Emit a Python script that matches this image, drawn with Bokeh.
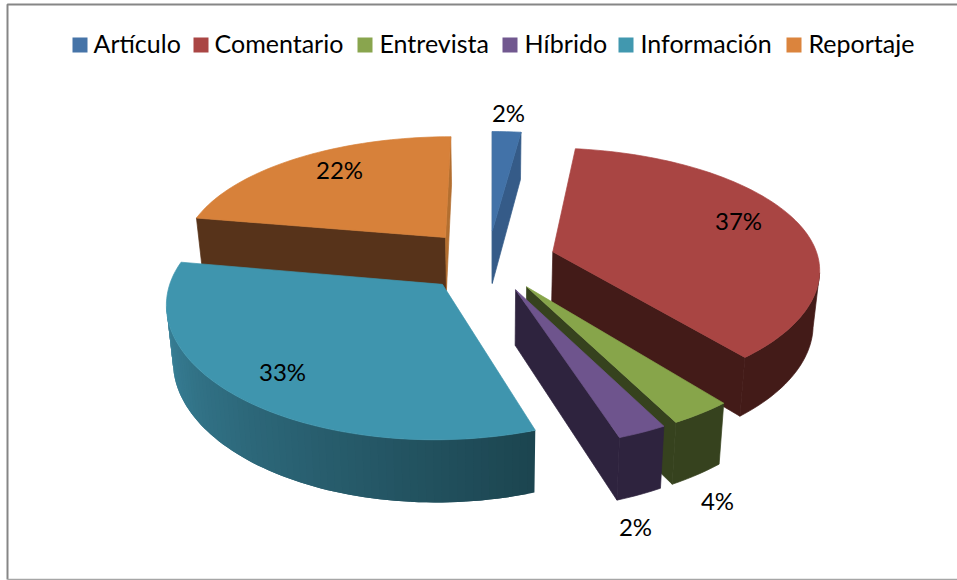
import numpy as np
from bokeh.embed import file_html
from bokeh.models import Range1d
from bokeh.plotting import figure
from bokeh.resources import INLINE
from bokeh.core.properties import value

# ---- data ----
categories = ["Artículo", "Comentario", "Entrevista", "Híbrido", "Información", "Reportaje"]
shares = [2.0, 37.05, 3.2, 2.55, 33.0, 22.2]
share_labels = ["2%", "37%", "4%", "2%", "33%", "22%"]

# ---- styles ----
top_colors = ["#4272A8", "#A94543", "#87A54A", "#6E548D", "#3F95AE", "#D7813A"]
legend_colors = ["#4674A8", "#AA4644", "#89A54E", "#71588F", "#4198AF", "#DB843D"]
wall_colors = ["#355B88", "#431B18", "#36421E", "#2E233E", "#1C4550", "#57331A"]
rim_far_colors = ["#355B88", "#431B18", "#36421E", "#2E233E", "#3F8EA8", "#57331A"]
end_wall_colors = ["#355B88", "#431B18", "#36421E", "#2E233E", "#1C4550", "#B36F30"]

legend_swatch_x = [72, 193, 357, 502, 618, 786]
legend_text_x = [93, 214, 379, 524, 640, 808]
label_x = [508, 738, 717, 635, 282, 339]
label_y = [112, 220, 500, 526, 371, 169]

# ---- projection ----
XV, YH, Y0 = 492.0, -670.0, 259.6
RX, RV, EXPL, X0 = 266.0, 268.0, 68.0, -4.5
PERSP = 0.13 / 272.0
H0, SHRINK = 54.0, 0.02
STRETCH, STRETCH_V = 12.0, 318.0
CAM_V = -1.0 / PERSP


def project(X, V, d=0.0):
    X, V = np.asarray(X, float), np.asarray(V, float)
    s = 1.0 / (1.0 + PERSP * V)
    x = XV + (X + X0) * s * (1 - SHRINK * d)
    y = YH + (Y0 - YH) * s + d * H0 * s ** 0.9
    y = y + STRETCH * (np.clip(-V, 0, None) / STRETCH_V) ** 1.5
    return x, y


def hex2rgb(c):
    return np.array([int(c[i:i + 2], 16) for i in (1, 3, 5)], float)


def mix(a, b, f):
    m = hex2rgb(a) * (1 - f) + hex2rgb(b) * f
    return "#%02x%02x%02x" % tuple(int(round(v)) for v in m)


p = figure(width=957, height=580, output_backend="svg", toolbar_location=None,
           x_range=Range1d(0, 957), y_range=Range1d(580, 0),
           min_border=0, margin=(0, 0, 0, 0), background_fill_color="white",
           border_fill_color="white", outline_line_color=None)
p.axis.visible = False
p.grid.visible = False

fracs = np.array(shares, float) / sum(shares)
ends = np.cumsum(fracs) * 2 * np.pi
starts = ends - fracs * 2 * np.pi
mids = (starts + ends) / 2
apex_X = EXPL * np.sin(mids)
apex_V = EXPL * np.cos(mids)


def wall_poly(cx, cv, angs):
    xa, va = cx + RX * np.sin(angs), cv + RV * np.cos(angs)
    tx, ty = project(xa, va, 0.0)
    bx, by = project(xa, va, 1.0)
    return list(tx) + list(bx[::-1]), list(ty) + list(by[::-1])


def radial_wall(cx, cv, ang):
    xs, ys = [], []
    for (r_, d_) in [(0, 0), (1, 0), (1, 1), (0, 1)]:
        px, py = project(cx + r_ * RX * np.sin(ang), cv + r_ * RV * np.cos(ang), d_)
        xs.append(float(px))
        ys.append(float(py))
    return xs, ys


def add_patch(xs, ys, color, edge=True):
    p.patch(xs, ys, fill_color=color, line_color=color if edge else None,
            line_width=0.7)


for i in np.argsort(-apex_V):
    cx, cv = apex_X[i], apex_V[i]
    a0, a1 = starts[i], ends[i]
    # radial walls
    for ang, sign, col in ((a0, -1, wall_colors[i]), (a1, 1, end_wall_colors[i])):
        nx, nv = sign * np.cos(ang), -sign * np.sin(ang)
        if nx * (0 - cx) + nv * (CAM_V - cv) > 0:
            xs, ys = radial_wall(cx, cv, ang)
            add_patch(xs, ys, col)
    # outer wall
    ts = np.linspace(a0, a1, max(3, int((a1 - a0) / 0.025)))
    px_, pv_ = cx + RX * np.sin(ts), cv + RV * np.cos(ts)
    vis = np.sin(ts) * (0 - px_) + np.cos(ts) * (CAM_V - pv_) > 0
    ts_vis = ts[vis]
    if len(ts_vis) > 1:
        if wall_colors[i] == rim_far_colors[i]:
            xs, ys = wall_poly(cx, cv, ts_vis)
            add_patch(xs, ys, wall_colors[i])
        else:
            for k in range(len(ts_vis) - 1):
                seg = ts_vis[k:k + 3]
                f = (ts_vis[k] - a0) / (a1 - a0)
                xs, ys = wall_poly(cx, cv, seg)
                add_patch(xs, ys, mix(wall_colors[i], rim_far_colors[i], f), edge=False)
    # top face
    tx, ty = project(np.r_[cx, cx + RX * np.sin(ts)], np.r_[cv, cv + RV * np.cos(ts)])
    add_patch(list(tx), list(ty), top_colors[i])

# chart frame
p.line([957, 7, 7], [4, 4, 579], line_color="#868686", line_width=2)
p.line([7, 957], [579, 579], line_color="#A6A6A6", line_width=1.5)

# legend
p.rect([x + 7.5 for x in legend_swatch_x], [44.5] * 6, width=15, height=15,
       fill_color=legend_colors, line_color=None)
p.text(legend_text_x, [42] * 6, text=categories, text_font=value("Lato"),
       text_font_size="25px", text_color="#000000", text_baseline="alphabetic")

# data labels
p.text(label_x, label_y, text=share_labels, text_font=value("Lato"),
       text_font_size="24px", text_color="#000000",
       text_align="center", text_baseline="middle")

open("out.html", "w").write(file_html(p, INLINE))
